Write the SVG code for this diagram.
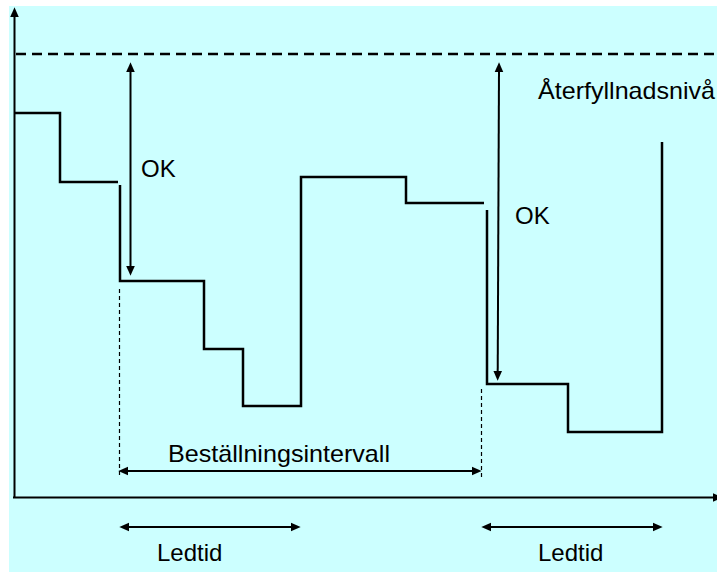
<svg xmlns="http://www.w3.org/2000/svg" width="717" height="572" viewBox="0 0 717 572">
<style>
.ln{fill:none;stroke:#000;stroke-width:2.5;stroke-linejoin:miter;stroke-linecap:butt}
.ar{fill:none;stroke:#000;stroke-width:2;marker-end:url(#ah)}
.dar{fill:none;stroke:#000;stroke-width:2;marker-start:url(#ah);marker-end:url(#ah)}
.dot{fill:none;stroke:#000;stroke-width:1.2;stroke-dasharray:4 3}
.dash{fill:none;stroke:#000;stroke-width:2.5;stroke-dasharray:10 6}
.tx{font-family:"Liberation Sans",Arial,sans-serif;font-size:24px;fill:#000}
</style>
<defs>
<marker id="ah" markerUnits="userSpaceOnUse" markerWidth="10" markerHeight="10" viewBox="0 0 9 8" refX="3" refY="4" orient="auto-start-reverse">
<path d="M0,0 L9,4 L0,8 z" fill="#000"/>
</marker>
</defs>
<rect x="0" y="0" width="717" height="572" fill="#ffffff"/>
<rect x="9" y="6" width="708" height="566" fill="#ccffff"/>
<g id="axes">
<line class="ar" x1="14.5" y1="498" x2="14.5" y2="14"/>
<line class="ar" x1="13" y1="497.5" x2="716" y2="497.5"/>
</g>
<g id="refill-level">
<line class="dash" x1="16" y1="54" x2="717" y2="54"/>
<text class="tx" x="538" y="99" textLength="177" lengthAdjust="spacingAndGlyphs">Återfyllnadsnivå</text>
</g>
<g id="stock-curve">
<polyline class="ln" points="14,113 60,113 60,182 118,182"/>
<polyline class="ln" points="120,185 120,281 204,281 204,349 243,349 243,406 301,406 301,177 406,177 406,203 484,203"/>
<polyline class="ln" points="487,210 487,384 568,384 568,432 662,432 662,142"/>
</g>
<g id="connectors">
<line class="dot" x1="119.5" y1="289" x2="119.5" y2="478"/>
<line class="dot" x1="481.5" y1="389" x2="481.5" y2="478"/>
<line class="dar" x1="130.5" y1="69" x2="130.5" y2="269"/>
<line class="dar" x1="499" y1="69" x2="497.7" y2="374"/>
<line class="dar" x1="125" y1="471" x2="475" y2="471"/>
<line class="dar" x1="126" y1="527" x2="294" y2="527"/>
<line class="dar" x1="488" y1="527" x2="656" y2="527"/>
</g>
<g id="label-ok1"><text class="tx" x="141" y="177">OK</text></g>
<g id="label-ok2"><text class="tx" x="515" y="224">OK</text></g>
<g id="label-interval"><text class="tx" x="168" y="462" textLength="222" lengthAdjust="spacingAndGlyphs">Beställningsintervall</text></g>
<g id="label-ledtid1"><text class="tx" x="157" y="561">Ledtid</text></g>
<g id="label-ledtid2"><text class="tx" x="538" y="561">Ledtid</text></g>
</svg>
